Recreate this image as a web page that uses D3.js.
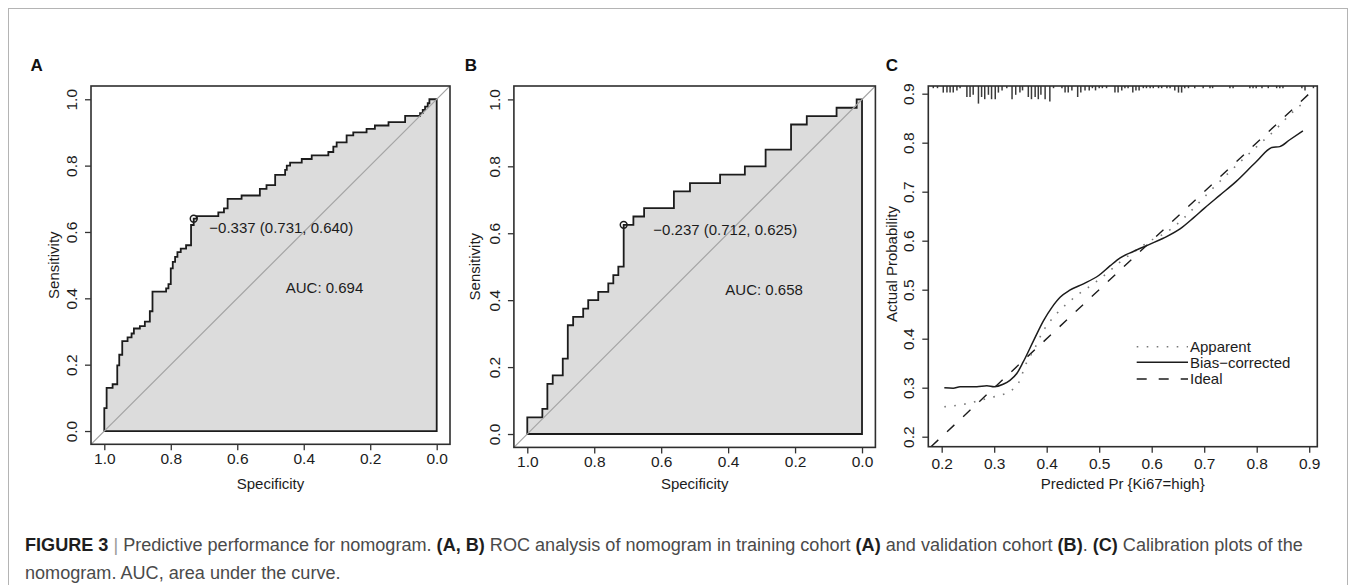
<!DOCTYPE html>
<html><head><meta charset="utf-8">
<script src="https://cdn.jsdelivr.net/npm/d3@7"></script>
<style>
body{margin:0;background:#fff}
svg{display:block}
text{font-family:"Liberation Sans",Arial,Helvetica,sans-serif}
</style>
</head><body>
<svg id="c" width="1356" height="585"></svg>
<script>
// ---------------- DATA ----------------
const rocTicks = [0, 0.2, 0.4, 0.6, 0.8, 1.0];
const calTicks = [0.2, 0.3, 0.4, 0.5, 0.6, 0.7, 0.8, 0.9];

// Panel A: training cohort ROC (specificity, sensitivity) step vertices
const rocA_spec = [1, 1, 0.993, 0.975, 0.961, 0.955, 0.946, 0.930, 0.918, 0.911,
  0.893, 0.878, 0.863, 0.855, 0.814, 0.807, 0.800, 0.794, 0.787, 0.780,
  0.770, 0.754, 0.739, 0.731, 0.722, 0.657, 0.640, 0.629, 0.587, 0.532,
  0.512, 0.486, 0.456, 0.451, 0.441, 0.406, 0.376, 0.326, 0.311, 0.301,
  0.271, 0.251, 0.211, 0.186, 0.145, 0.095, 0.050, 0.042, 0.035, 0.027,
  0.022, 0];
const rocA_sens = [0, 0.069, 0.130, 0.141, 0.198, 0.230, 0.271, 0.282, 0.294, 0.309,
  0.316, 0.330, 0.361, 0.420, 0.430, 0.443, 0.490, 0.510, 0.525, 0.539,
  0.550, 0.560, 0.621, 0.640, 0.648, 0.659, 0.671, 0.700, 0.710, 0.730,
  0.741, 0.772, 0.787, 0.800, 0.809, 0.820, 0.831, 0.841, 0.857, 0.870,
  0.891, 0.900, 0.911, 0.921, 0.931, 0.950, 0.958, 0.968, 0.978, 0.988,
  1.0, 1.0];
const threshA = {value: -0.337, spec: 0.731, sens: 0.640};
const aucA = 0.694;

// Panel B: validation cohort ROC
const rocB_spec = [1, 1, 0.955, 0.940, 0.924, 0.894, 0.879, 0.863, 0.833, 0.818,
  0.788, 0.758, 0.743, 0.728, 0.712, 0.683, 0.651, 0.562, 0.514, 0.424,
  0.350, 0.288, 0.212, 0.165, 0.076, 0.016, 0];
const rocB_sens = [0, 0.05, 0.075, 0.15, 0.175, 0.225, 0.325, 0.35, 0.375, 0.40,
  0.425, 0.45, 0.475, 0.50, 0.625, 0.65, 0.675, 0.725, 0.75, 0.775,
  0.80, 0.85, 0.925, 0.95, 0.975, 1.0, 1.0];
const threshB = {value: -0.237, spec: 0.712, sens: 0.625};
const aucB = 0.658;

// Panel C: calibration
const biasX = [0.205, 0.222, 0.235, 0.267, 0.286, 0.300, 0.317, 0.330, 0.343, 0.355,
  0.375, 0.394, 0.410, 0.426, 0.444, 0.470, 0.499, 0.521, 0.540, 0.565,
  0.597, 0.622, 0.654, 0.680, 0.700, 0.730, 0.760, 0.799, 0.829, 0.844,
  0.863, 0.888];
const biasY = [0.300, 0.299, 0.302, 0.302, 0.304, 0.302, 0.307, 0.315, 0.329, 0.352,
  0.396, 0.437, 0.464, 0.485, 0.499, 0.512, 0.529, 0.549, 0.565, 0.578,
  0.593, 0.605, 0.624, 0.647, 0.666, 0.693, 0.720, 0.761, 0.790, 0.792,
  0.806, 0.824];
const apparentX = [0.205, 0.241, 0.286, 0.330, 0.346, 0.362, 0.375, 0.394, 0.419, 0.435,
  0.457, 0.489, 0.514, 0.539, 0.570, 0.596, 0.628, 0.660, 0.685, 0.710,
  0.750, 0.800, 0.835, 0.863, 0.885];
const apparentY = [0.261, 0.266, 0.278, 0.293, 0.309, 0.352, 0.376, 0.417, 0.451, 0.468,
  0.488, 0.512, 0.533, 0.556, 0.580, 0.599, 0.617, 0.645, 0.672, 0.700,
  0.742, 0.792, 0.826, 0.857, 0.878];
// rug of predicted probabilities (position, relative frequency)
const rugX = [0.184, 0.192, 0.203, 0.210, 0.216, 0.222, 0.229, 0.235, 0.248, 0.254,
  0.260, 0.270, 0.276, 0.282, 0.289, 0.295, 0.302, 0.308, 0.315, 0.324,
  0.334, 0.341, 0.349, 0.354, 0.365, 0.371, 0.378, 0.384, 0.389, 0.397,
  0.406, 0.413, 0.429, 0.435, 0.441, 0.448, 0.459, 0.465, 0.473, 0.481,
  0.487, 0.493, 0.500, 0.506, 0.514, 0.530, 0.536, 0.543, 0.549, 0.555,
  0.564, 0.570, 0.576, 0.584, 0.590, 0.597, 0.603, 0.613, 0.619, 0.629,
  0.635, 0.644, 0.651, 0.657, 0.663, 0.670, 0.682, 0.698, 0.711, 0.716,
  0.749, 0.755, 0.787, 0.793, 0.799, 0.810, 0.822, 0.838, 0.844, 0.850,
  0.886, 0.892, 0.908];
const rugN = [1, 1, 3, 3, 3, 3, 2, 1, 5, 5,
  4, 8, 5, 6, 4, 6, 6, 3, 2, 1,
  6, 4, 3, 2, 5, 6, 5, 6, 4, 6,
  7, 1, 1, 3, 3, 2, 5, 3, 2, 2,
  1, 2, 1, 1, 1, 3, 3, 2, 1, 1,
  3, 2, 2, 1, 1, 1, 1, 1, 1, 1,
  1, 2, 3, 3, 1, 1, 1, 1, 1, 1,
  1, 1, 1, 1, 1, 1, 1, 1, 1, 1,
  1, 2, 1];
const legendLabels = ["Apparent", "Bias\u2212corrected", "Ideal"];

const captionLine1 = [
  {t: "FIGURE 3", b: true}, {t: " | ", sep: true},
  {t: "Predictive performance for nomogram. "}, {t: "(A, B)", b: true},
  {t: " ROC analysis of nomogram in training cohort "}, {t: "(A)", b: true},
  {t: " and validation cohort "}, {t: "(B)", b: true}, {t: ". "},
  {t: "(C)", b: true}, {t: " Calibration plots of the"}
];
const captionLine2 = [{t: "nomogram. AUC, area under the curve."}];

// ---------------- DRAW ----------------
const svg = d3.select("#c");
const INK = "#1c1c1c";
const fmt1 = d3.format(".1f");
const minus = s => s.replace("-", "\u2212");

// outer frame
svg.append("rect").attr("x", 8.5).attr("y", 8.5).attr("width", 1339).attr("height", 620)
  .attr("fill", "none").attr("stroke", "#b4b4b4").attr("stroke-width", 1);

function styleAxis(g) {
  g.select(".domain").remove();
  g.selectAll(".tick line").attr("stroke", "#333").attr("stroke-width", 1.3);
  g.selectAll(".tick text").attr("fill", INK).attr("font-size", 15.5)
    .attr("font-family", '"Liberation Sans",Arial,sans-serif');
}
function rotateYLabels(g, off) {
  g.selectAll(".tick text").attr("x", null).attr("dy", 0).attr("y", 0)
    .attr("text-anchor", "middle").attr("transform", `translate(${-off},0) rotate(-90)`);
}
function panelLetter(t, x, y) {
  svg.append("text").attr("x", x).attr("y", y).attr("dy", "0.36em").attr("text-anchor", "middle")
    .attr("font-size", 17).attr("font-weight", "bold").attr("fill", "#111").text(t);
}
function boxRect(x0, y0, x1, y1) {
  svg.append("rect").attr("x", x0).attr("y", y0).attr("width", x1 - x0).attr("height", y1 - y0)
    .attr("fill", "none").attr("stroke", "#2e2e2e").attr("stroke-width", 1.6);
}

function rocPanel(o) {
  const x = d3.scaleLinear().domain([1.04, -0.04]).range([o.x0, o.x1]);
  const y = d3.scaleLinear().domain([-0.04, 1.04]).range([o.y1, o.y0]);
  const clipId = "clip" + o.id;
  svg.append("clipPath").attr("id", clipId).append("rect")
    .attr("x", o.x0).attr("y", o.y0).attr("width", o.x1 - o.x0).attr("height", o.y1 - o.y0);
  const pts = o.spec.map((s, i) => [s, o.sens[i]]).concat([[0, 0]]);
  const line = d3.line().x(d => x(d[0])).y(d => y(d[1])).curve(d3.curveStepAfter);
  svg.append("path").attr("d", line(pts) + "Z").attr("fill", "#dcdcdc")
    .attr("stroke", INK).attr("stroke-width", 1.8).attr("stroke-linejoin", "miter");
  svg.append("line").attr("clip-path", `url(#${clipId})`)
    .attr("x1", x(1.04)).attr("y1", y(-0.04)).attr("x2", x(-0.04)).attr("y2", y(1.04))
    .attr("stroke", "#a4a4a4").attr("stroke-width", 1.2);
  boxRect(o.x0, o.y0, o.x1, o.y1);
  // threshold point
  svg.append("circle").attr("cx", x(o.th.spec)).attr("cy", y(o.th.sens)).attr("r", 3.4)
    .attr("fill", "none").attr("stroke", INK).attr("stroke-width", 1.5);
  svg.append("text").attr("x", x(o.thLabel[0])).attr("y", y(o.thLabel[1])).attr("dy", "0.36em")
    .attr("font-size", 15).attr("fill", INK)
    .text(`${minus(d3.format(".3f")(o.th.value))} (${d3.format(".3f")(o.th.spec)}, ${d3.format(".3f")(o.th.sens)})`);
  svg.append("text").attr("x", x(o.aucLabel[0])).attr("y", y(o.aucLabel[1])).attr("dy", "0.36em")
    .attr("text-anchor", "middle").attr("font-size", 15).attr("fill", INK)
    .text(`AUC: ${d3.format(".3f")(o.auc)}`);
  // axes
  const gx = svg.append("g").attr("transform", `translate(0,${o.y1})`)
    .call(d3.axisBottom(x).tickValues(rocTicks).tickSize(6).tickPadding(3).tickFormat(fmt1));
  styleAxis(gx);
  const gy = svg.append("g").attr("transform", `translate(${o.x0},0)`)
    .call(d3.axisLeft(y).tickValues(rocTicks).tickSize(6).tickFormat(fmt1));
  styleAxis(gy); rotateYLabels(gy, 14);
  svg.append("text").attr("transform", `translate(${o.yTitleX},${(o.y0 + o.y1) / 2}) rotate(-90)`)
    .attr("dy", "0.36em").attr("text-anchor", "middle").attr("font-size", 15).attr("fill", INK).text("Sensitivity");
  svg.append("text").attr("x", (o.x0 + o.x1) / 2).attr("y", 484).attr("dy", "0.36em")
    .attr("text-anchor", "middle").attr("font-size", 15).attr("fill", INK).text("Specificity");
  panelLetter(o.letter, o.letterX, 65);
}

rocPanel({id: "A", x0: 91, x1: 450, y0: 86, y1: 444.3, spec: rocA_spec, sens: rocA_sens,
  th: threshA, thLabel: [0.684, 0.612], auc: aucA, aucLabel: [0.3375, 0.431],
  yTitleX: 53.5, letter: "A", letterX: 36.7});
rocPanel({id: "B", x0: 513.9, x1: 875.4, y0: 86, y1: 447.4, spec: rocB_spec, sens: rocB_sens,
  th: threshB, thLabel: [0.6235, 0.6095], auc: aucB, aucLabel: [0.2925, 0.432],
  yTitleX: 475, letter: "B", letterX: 471});

// Panel C
(function () {
  const x0 = 928.3, x1 = 1317.3, y0 = 86, y1 = 446.7;
  const x = d3.scaleLinear().domain([0.1745, 0.9154]).range([x0, x1]);
  const y = d3.scaleLinear().domain([0.1796, 0.9157]).range([y1, y0]);
  svg.append("clipPath").attr("id", "clipC").append("rect")
    .attr("x", x0).attr("y", y0).attr("width", x1 - x0).attr("height", y1 - y0);
  const g = svg.append("g").attr("clip-path", "url(#clipC)");
  // ideal
  g.append("line").attr("x1", x(0.1796)).attr("y1", y(0.1796)).attr("x2", x(0.9157)).attr("y2", y(0.9157))
    .attr("stroke", INK).attr("stroke-width", 1.4).attr("stroke-dasharray", "10,12");
  // apparent
  const ln = d3.line().x(d => x(d[0])).y(d => y(d[1])).curve(d3.curveMonotoneX);
  g.append("path").attr("d", ln(apparentX.map((v, i) => [v, apparentY[i]])))
    .attr("fill", "none").attr("stroke", "#7a7a7a").attr("stroke-width", 1.6)
    .attr("stroke-dasharray", "1.6,8.4");
  // bias-corrected
  g.append("path").attr("d", ln(biasX.map((v, i) => [v, biasY[i]])))
    .attr("fill", "none").attr("stroke", INK).attr("stroke-width", 1.5);
  // rug
  svg.append("g").selectAll("line").data(rugX).join("line")
    .attr("x1", d => x(d)).attr("x2", d => x(d))
    .attr("y1", y0).attr("y2", (d, i) => y0 + rugN[i] * 2.2)
    .attr("stroke", "#3a3a3a").attr("stroke-width", 1.5);
  boxRect(x0, y0, x1, y1);
  const gx = svg.append("g").attr("transform", `translate(0,${y1})`)
    .call(d3.axisBottom(x).tickValues(calTicks).tickSize(6).tickPadding(5).tickFormat(fmt1));
  styleAxis(gx);
  const gy = svg.append("g").attr("transform", `translate(${x0},0)`)
    .call(d3.axisLeft(y).tickValues(calTicks).tickSize(6).tickFormat(fmt1));
  styleAxis(gy); rotateYLabels(gy, 14);
  svg.append("text").attr("transform", `translate(891.7,264) rotate(-90)`)
    .attr("dy", "0.36em").attr("text-anchor", "middle").attr("font-size", 15).attr("fill", INK).text("Actual Probability");
  svg.append("text").attr("x", (x0 + x1) / 2).attr("y", 484).attr("dy", "0.36em")
    .attr("text-anchor", "middle").attr("font-size", 15).attr("fill", INK).text("Predicted Pr {Ki67=high}");
  panelLetter("C", 892, 65);
  // legend
  const rows = [346.7, 362.3, 379];
  const lx0 = 1136.7, lx1 = 1188;
  const styles = [
    {stroke: "#7a7a7a", dash: "1.6,8.4", w: 1.6},
    {stroke: INK, dash: null, w: 1.5},
    {stroke: INK, dash: "10,12", w: 1.4}
  ];
  legendLabels.forEach((lab, i) => {
    svg.append("line").attr("x1", lx0).attr("x2", lx1).attr("y1", rows[i]).attr("y2", rows[i])
      .attr("stroke", styles[i].stroke).attr("stroke-width", styles[i].w)
      .attr("stroke-dasharray", styles[i].dash);
    svg.append("text").attr("x", lx1 + 2).attr("y", rows[i]).attr("dy", "0.36em")
      .attr("font-size", 15).attr("fill", INK).text(lab);
  });
})();

// caption
function caption(parts, yBase) {
  const t = svg.append("text").attr("x", 25).attr("y", yBase).attr("font-size", 16).attr("fill", "#4a4a4a");
  parts.forEach(p => {
    const s = t.append("tspan").text(p.t);
    if (p.b) s.attr("font-weight", "bold").attr("fill", "#1e1e1e");
    if (p.sep) s.attr("fill", "#9a9a9a");
  });
  return t;
}
const c1 = caption(captionLine1, 551);
const w1 = c1.node().getComputedTextLength();
const fs = 16 * 1278 / w1;
c1.attr("font-size", fs);
caption(captionLine2, 579).attr("font-size", fs);
</script>
</body></html>
